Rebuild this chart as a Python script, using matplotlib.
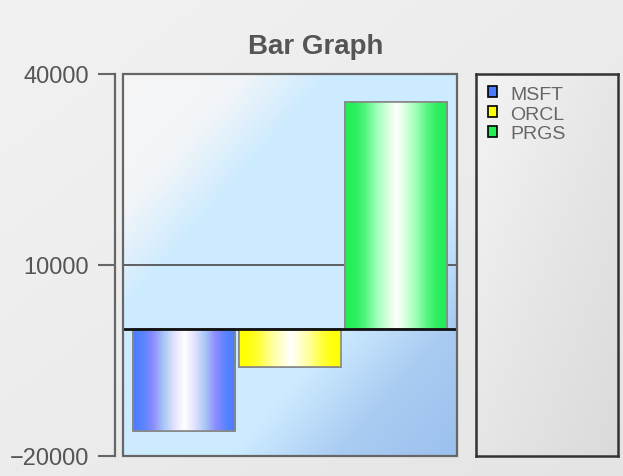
import numpy as np
import matplotlib
matplotlib.use('Agg')
import matplotlib.pyplot as plt
from matplotlib.colors import LinearSegmentedColormap, to_rgb
from matplotlib.patches import Rectangle

plt.rcParams['font.family'] = ['Liberation Sans', 'DejaVu Sans']

# data
series = ['MSFT', 'ORCL', 'PRGS']
values = [-16000, -6000, 35600]
y_ticks = [-20000, 10000, 40000]

# gradient stops for each bar (edge -> centre -> edge)
bar_colors = ['#4A7CFF', '#FFFF00', '#22EE55']
bar_stops = [
    ['#4A7CFF', '#5A84FF', '#8E8EFF', '#A8C8F4', '#E2E2FF', '#FFFFFF', '#E2E2FF', '#A8C8F4', '#8E8EFF', '#5A84FF', '#4A7CFF'],
    ['#FFFF00', '#FFFF10', '#FFFF40', '#FFFF90', '#FFFFC8', '#FFFFFF', '#FFFFC8', '#FFFF90', '#FFFF40', '#FFFF10', '#FFFF00'],
    ['#22EE55', '#2AEE5E', '#55F580', '#99FFB4', '#D0FFD8', '#FFFFFF', '#D0FFD8', '#99FFB4', '#55F580', '#2AEE5E', '#22EE55'],
]


def diag_gradient(stops, n=300):
    # stops: list of (pos, color) along the top-left -> bottom-right diagonal
    xx, yy = np.meshgrid(np.linspace(0, 1, n), np.linspace(0, 1, n))
    u = (xx + yy) / 2
    pos = [s[0] for s in stops]
    rgb = np.array([to_rgb(s[1]) for s in stops])
    img = np.zeros((n, n, 3))
    for c in range(3):
        img[..., c] = np.interp(u, pos, rgb[:, c])
    return img


W, H = 623, 477
fig = plt.figure(figsize=(W / 100, H / 100), dpi=100)
fig.patch.set_facecolor('#EDEDED')

# background of the whole picture
bg = fig.add_axes([0, 0, 1, 1], zorder=-10)
bg.imshow(diag_gradient([(0, '#F2F2F2'), (0.5, '#ECECEC'), (1, '#E4E4E4')]),
          extent=[0, 1, 0, 1], aspect='auto', transform=bg.transAxes)
bg.axis('off')

ax = fig.add_axes([123 / W, 1 - 457 / H, (457 - 123) / W, (457 - 75) / H])

# plot area background
ax.imshow(diag_gradient([(0, '#F6F6F6'), (0.18, '#F2F5F8'), (0.31, '#CDEBFF'),
                         (0.66, '#CDEBFF'), (0.82, '#AACCF2'), (1, '#9CC0EE')]),
          extent=[0, 1, 0, 1], aspect='auto', transform=ax.transAxes, zorder=0)

ax.axhline(10000, color='#555555', lw=1.3, zorder=1)

x = np.arange(len(series))
bars = ax.bar(x, values, width=0.967, color=bar_colors, edgecolor='#888888',
              linewidth=1.2, zorder=2)
for b, name in zip(bars, series):
    b.set_label(name)

for b, stops in zip(bars, bar_stops):
    cmap = LinearSegmentedColormap.from_list('g', stops)
    grad = np.linspace(0, 1, 256).reshape(1, -1)
    x0, y0 = b.get_x(), b.get_y()
    w, h = b.get_width(), b.get_height()
    im = ax.imshow(grad, cmap=cmap, extent=[x0, x0 + w, min(y0, y0 + h), max(y0, y0 + h)],
                   aspect='auto', zorder=2.5, interpolation='bilinear')
    im.set_clip_path(b)
    # edge on top of the gradient
    ax.add_patch(Rectangle((x0, y0), w, h, fill=False, edgecolor='#888888', lw=1.2, zorder=3))

ax.axhline(0, color='#111111', lw=2, zorder=4)

ax.set_xlim(-0.58, 2.58)
ax.set_ylim(-20000, 40000)
ax.set_yticks(y_ticks)
ax.set_xticks([])

for s in ['top', 'right', 'bottom']:
    ax.spines[s].set_visible(False)
ax.spines['left'].set_position(('outward', 5.8))
ax.spines['left'].set_color('#666666')
ax.spines['left'].set_linewidth(1.6)
ax.tick_params(axis='y', direction='out', length=12.2, width=1.5, color='#666666',
               labelcolor='#555555', labelsize=17, pad=6.5)
ax.add_patch(Rectangle((0, 0), 1, 1, transform=ax.transAxes, fill=False,
                       edgecolor='#666666', lw=1.6, zorder=6, clip_on=False))

fig.text(316 / W, 1 - 47 / H, 'Bar Graph', ha='center', va='center',
         fontsize=20, fontweight='bold', color='#555555')

# legend box
lax = fig.add_axes([476 / W, 1 - 457 / H, (618 - 476) / W, (457 - 75) / H])
lax.imshow(diag_gradient([(0, '#F4F4F4'), (0.5, '#E6E6E6'), (1, '#DADADA')]),
           extent=[0, 1, 0, 1], aspect='auto', transform=lax.transAxes)
lax.set_xticks([])
lax.set_yticks([])
for s in lax.spines.values():
    s.set_color('#333333')
    s.set_linewidth(1.8)

handles, labels = ax.get_legend_handles_labels()
leg = lax.legend(handles, labels, loc='upper left', frameon=False, fontsize=14,
                 handlelength=0.5, handleheight=0.5, handletextpad=0.65,
                 labelspacing=0.15, borderaxespad=0.25, borderpad=0.35,
                 labelcolor='#666666')
for h, c in zip(leg.legend_handles, bar_colors):
    h.set_edgecolor('black')
    h.set_facecolor(c)
    h.set_linewidth(1.2)

fig.savefig('out.png', dpi=100)
